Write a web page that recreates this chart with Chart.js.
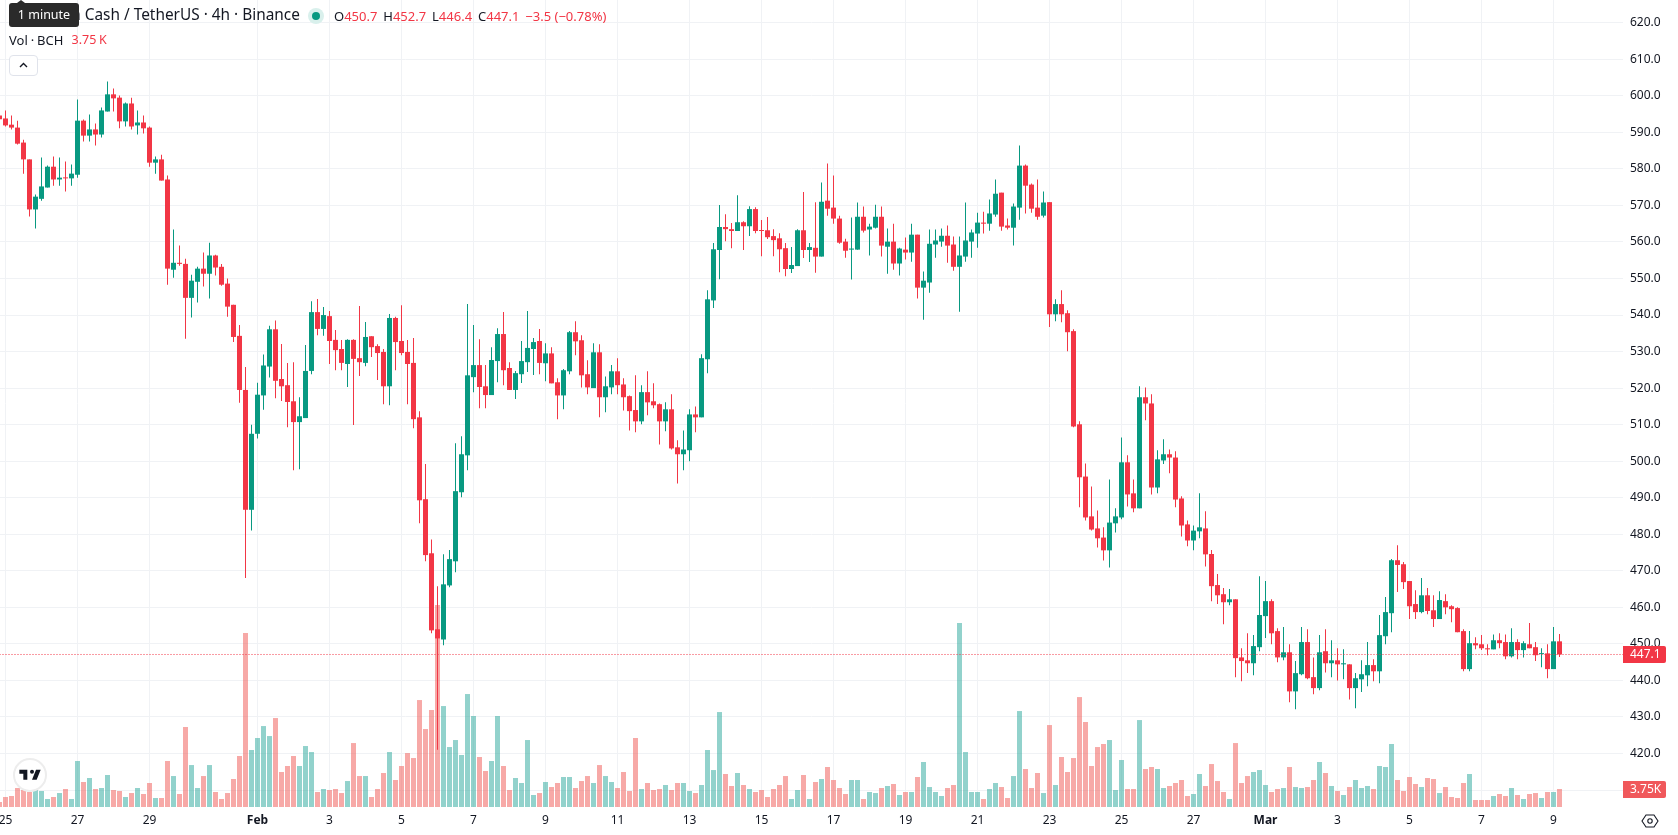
<!DOCTYPE html>
<html lang="en">
<head>
<meta charset="utf-8">
<title>Bitcoin Cash / TetherUS 4h</title>
<script src="https://cdn.jsdelivr.net/npm/chart.js@4"></script>
<style>
  html, body { margin: 0; padding: 0; background: #fff; overflow: hidden; }
  #stage { position: relative; width: 1678px; height: 835px; font-family: "Noto Sans", sans-serif; color: #131722; }
  canvas { position: absolute; left: 0; top: 0; }
  .hud { position: absolute; white-space: nowrap; line-height: 18px; }
  .red { color: #F23645; }
  #title { left: 31px; top: 6px; font-size: 15.4px; }
  #ohlc { left: 334px; top: 7px; font-size: 13px; }
  #ohlc span { margin-right: 2.5px; }
  #vol { left: 9px; top: 31px; font-size: 13px; word-spacing: -0.5px; }
  #vol .red { position: absolute; left: 62.5px; font-size: 12.5px; }
  #tip { left: 9px; top: 3px; width: 70px; height: 24px; line-height: 24px; border-radius: 3px; background: #2A2A2A; color: #fff; font-size: 12.5px; text-align: center; }
  #tip::before { content: ""; position: absolute; left: 8px; top: -3px; border-left: 4px solid transparent; border-right: 4px solid transparent; border-bottom: 3px solid #2A2A2A; }
  #dot { position: absolute; left: 308px; top: 8px; width: 16px; height: 16px; border-radius: 50%; background: #D9F0EC; }
  #dot::after { content: ""; position: absolute; left: 4px; top: 4px; width: 8px; height: 8px; border-radius: 50%; background: #089981; }
  #collapse { position: absolute; left: 9px; top: 55px; width: 27px; height: 19px; border: 1px solid #E0E3EB; border-radius: 4px; background: #fff; }
  #logo { position: absolute; left: 13px; top: 758px; width: 30px; height: 30px; border: 2px solid #EDEDED; border-radius: 50%; background: #fff; }
  #logo svg { position: absolute; left: 3px; top: 5px; }
  #gear { position: absolute; left: 1641px; top: 812px; }
</style>
</head>
<body>
<div id="stage">
  <canvas id="chart" width="1678" height="835"></canvas>
  <div class="hud" id="title">Bitcoin Cash / TetherUS · 4h · Binance</div>
  <div id="dot"></div>
  <div class="hud" id="ohlc">
    <span>O<b class="red" style="font-weight:400">450.7</b></span>
    <span>H<b class="red" style="font-weight:400">452.7</b></span>
    <span>L<b class="red" style="font-weight:400">446.4</b></span>
    <span>C<b class="red" style="font-weight:400">447.1</b></span>
    <span class="red">−3.5 (−0.78%)</span>
  </div>
  <div class="hud" id="vol">Vol · BCH <span class="red">3.75 K</span></div>
  <div class="hud" id="tip">1 minute</div>
  <div id="collapse">
    <svg width="27" height="19" viewBox="0 0 27 19"><path d="M10 11l3.5-3.5L17 11" fill="none" stroke="#131722" stroke-width="1.4"/></svg>
  </div>
  <div id="logo">
    <svg width="24" height="20" viewBox="0 0 36 28"><path fill="#131722" d="M14 6H2v6h6v9h6V6zm14 15h-7l6-15h7l-6 15zm-7-9a3 3 0 100-6 3 3 0 000 6z"/></svg>
  </div>
  <svg id="gear" width="18" height="18" viewBox="0 0 18 18"><path d="M5 3h8l4 6-4 6H5L1 9z" fill="none" stroke="#131722" stroke-width="1.1"/><circle cx="9" cy="9" r="2.2" fill="none" stroke="#131722" stroke-width="1.1"/></svg>
</div>

<script>
// Four-hour BCH/USDT candles, oldest first, with base volume in thousands.
const opens = [
  594.6,593.8,592.1,591.3,587.2,582.6,568.9,571.8,574.9,580.6,
  577.1,577.6,577.4,578.4,593.2,589.1,590.8,589.4,595.7,600.4,
  599.5,593.0,597.9,591.9,592.7,591.3,581.7,582.6,577.1,552.4,
  554.3,554.0,544.7,549.1,552.7,551.3,556.3,553.2,548.6,542.8,
  534.3,519.5,486.7,507.5,518.0,525.9,536.1,522.5,520.8,516.4,
  510.7,511.8,524.7,540.8,536.2,539.7,533.2,530.7,526.6,533.2,
  528.2,526.9,534.2,531.5,529.9,520.5,539.2,532.9,529.9,526.9,
  512.0,489.6,474.8,454.0,451.2,466.0,472.6,491.5,501.6,523.0,
  526.3,520.5,518.1,527.4,534.8,525.5,519.5,523.8,527.1,530.7,
  532.9,526.8,529.5,521.6,518.0,524.6,535.3,533.1,523.8,520.0,
  529.8,517.5,520.2,524.6,521.0,517.8,514.0,510.9,518.9,516.4,
  515.6,510.9,514.2,503.8,501.9,503.0,512.8,512.0,527.9,544.0,
  557.8,564.1,563.5,563.0,565.4,564.3,569.0,563.2,563.2,561.6,
  561.0,558.3,552.6,553.4,563.2,557.8,558.4,556.0,571.3,569.4,
  566.4,560.1,557.9,557.9,566.9,563.4,563.9,566.9,558.7,560.1,
  554.1,557.9,557.1,562.0,547.5,548.9,559.3,560.1,561.7,559.3,
  553.2,556.0,560.1,562.3,565.3,565.0,567.5,573.5,564.5,563.9,
  569.4,580.9,575.7,569.4,567.2,570.9,540.2,543.0,540.5,535.6,
  510.1,495.8,484.9,481.6,479.1,475.6,483.0,484.6,499.7,491.2,
  487.1,517.5,515.8,492.8,500.2,501.9,501.0,489.8,482.7,478.3,
  480.8,481.6,474.6,466.1,463.6,461.4,462.2,446.3,445.5,444.7,
  449.1,457.6,461.7,453.5,446.3,447.7,437.0,441.7,450.5,440.9,
  437.9,448.0,444.7,445.5,444.4,444.4,437.9,440.3,441.4,444.2,
  442.5,452.1,458.4,472.9,471.8,467.2,460.9,458.7,463.3,459.2,
  456.8,461.7,460.3,459.8,453.5,443.1,450.2,449.9,448.8,448.5,
  451.0,450.5,446.6,450.5,448.3,449.9,449.1,447.2,447.4,443.1,
  450.7
];
const closes = [
  593.6,591.9,591.3,586.9,582.6,568.9,572.4,575.2,580.6,577.1,
  577.6,577.4,578.7,593.2,589.1,590.8,589.4,596.0,600.4,599.3,
  593.0,597.9,591.6,592.7,591.1,581.7,582.6,576.8,552.7,554.3,
  554.0,544.7,549.4,552.7,551.3,556.3,553.0,548.3,542.3,534.0,
  519.5,486.7,507.5,518.2,526.2,536.1,522.0,520.5,516.2,510.7,
  512.3,524.7,540.8,536.2,540.0,532.9,530.4,526.9,533.2,528.0,
  527.1,534.0,531.2,529.6,520.5,539.2,532.6,529.6,526.6,511.5,
  489.3,474.3,453.7,451.5,466.3,473.2,491.8,501.9,523.5,526.3,
  520.3,518.1,527.7,534.8,524.9,519.5,524.1,527.4,531.0,532.6,
  526.9,529.5,521.3,518.0,524.9,535.3,532.8,523.5,520.2,529.8,
  517.5,520.5,524.6,520.8,517.5,513.7,510.9,518.9,516.1,515.3,
  510.9,514.2,503.5,501.9,503.2,512.8,512.0,528.2,544.3,558.0,
  564.1,563.5,563.0,565.4,564.3,569.0,563.0,563.0,561.3,560.5,
  558.0,552.6,553.7,563.2,557.8,558.6,556.0,571.0,569.1,566.4,
  559.8,557.6,558.2,566.9,563.1,564.2,566.9,559.0,560.1,554.1,
  558.2,557.1,562.0,547.5,549.4,559.5,560.4,561.7,559.0,553.2,
  556.3,560.4,562.6,565.3,565.0,567.8,573.2,564.2,563.9,569.7,
  580.9,575.4,569.1,566.9,570.8,540.2,543.0,540.2,535.3,509.5,
  495.6,484.6,481.3,478.9,475.6,483.2,484.9,499.7,490.9,487.1,
  517.5,515.8,492.8,500.5,501.9,501.0,489.5,482.4,478.3,481.0,
  481.9,474.5,465.8,463.3,461.4,462.2,446.1,445.3,444.7,449.4,
  457.9,461.7,452.9,446.3,447.7,437.0,442.0,450.5,440.6,437.9,
  447.7,444.7,445.5,444.4,444.7,437.9,440.6,441.7,444.2,442.5,
  452.4,458.7,472.9,471.6,466.9,460.3,458.7,463.3,459.0,456.8,
  462.0,460.0,459.5,453.2,443.1,450.2,449.6,448.8,448.5,451.0,
  450.2,446.6,450.5,448.3,450.2,448.8,446.9,447.4,443.1,450.7,
  447.1
];
const highs = [
  595.0,596.0,594.6,593.2,588.0,582.6,573.0,583.1,580.9,583.4,
  583.1,582.0,581.2,599.0,593.5,594.9,592.4,596.8,603.9,602.0,
  600.1,598.2,599.5,596.0,594.6,591.6,583.4,583.9,578.2,563.4,
  559.0,555.4,551.0,553.2,557.1,559.8,556.5,554.0,550.0,542.8,
  537.3,525.8,510.0,521.5,529.2,537.1,538.5,532.1,526.9,527.1,
  517.5,531.8,543.8,544.4,542.2,541.1,535.9,533.2,533.4,533.4,
  542.5,538.1,534.2,532.0,530.7,540.3,539.5,542.7,533.2,533.7,
  513.7,499.2,478.6,465.8,474.5,475.7,504.9,506.8,543.0,537.3,
  533.4,526.3,531.2,536.4,540.8,527.1,524.7,532.9,541.1,533.7,
  536.2,532.3,531.2,522.7,525.2,535.6,538.3,534.5,527.6,532.3,
  532.0,523.2,526.3,528.2,522.7,518.0,523.5,520.8,524.6,521.3,
  515.8,516.1,518.3,505.7,508.4,514.2,515.0,529.3,546.8,559.7,
  570.1,567.6,565.2,572.8,565.7,569.8,569.5,566.0,566.8,563.5,
  562.4,559.7,558.6,563.5,573.7,559.7,570.9,576.3,581.5,578.2,
  567.2,560.9,566.7,570.8,569.7,565.0,570.2,569.7,563.7,565.0,
  558.4,561.2,565.0,562.0,551.9,563.4,563.4,563.7,564.5,561.5,
  561.5,570.8,563.4,568.0,568.3,571.6,577.1,573.5,566.4,570.5,
  586.4,581.2,576.0,577.1,573.8,570.9,544.3,546.8,541.3,536.1,
  510.9,499.4,493.1,486.5,481.9,495.0,487.1,506.5,501.6,495.0,
  520.5,520.2,518.3,503.0,506.0,503.2,502.7,490.4,483.8,482.4,
  491.2,486.3,475.7,469.1,465.3,465.0,462.2,448.8,452.9,452.4,
  468.5,467.2,462.2,454.3,454.6,449.9,445.3,454.6,454.0,446.3,
  452.4,454.0,451.0,448.8,448.5,444.4,442.0,445.5,450.5,445.8,
  457.9,462.8,473.2,477.0,472.4,467.2,464.7,468.0,465.3,463.3,
  464.4,463.6,460.6,460.0,454.0,453.5,451.8,452.4,449.9,452.6,
  452.9,452.6,454.3,451.3,450.7,455.7,450.5,448.8,449.9,454.6,
  452.7
];
const lows = [
  593.0,591.6,590.8,586.7,578.7,567.0,563.7,571.3,574.9,575.4,
  575.4,573.8,575.4,577.6,587.5,587.5,586.4,588.6,595.7,595.7,
  591.1,591.6,590.8,589.4,589.7,580.6,578.7,576.8,548.3,550.2,
  553.5,533.5,539.3,543.4,547.8,544.5,550.8,548.0,539.5,532.6,
  516.0,468.0,481.0,506.2,514.1,522.9,517.2,516.5,509.3,497.5,
  497.8,511.8,523.8,534.5,534.3,526.6,524.9,524.9,520.3,509.9,
  523.3,526.0,528.5,522.2,515.6,515.3,524.9,529.0,515.6,509.0,
  483.0,472.6,452.9,421.0,449.6,465.5,469.6,490.1,497.5,518.9,
  514.5,514.5,518.1,521.6,520.8,519.5,517.0,521.4,524.4,523.6,
  523.8,521.9,521.3,511.5,514.2,523.8,529.0,520.2,518.3,520.0,
  512.0,513.4,518.3,518.3,513.9,508.4,507.9,510.1,512.6,514.5,
  504.6,508.2,503.2,493.9,497.5,500.0,507.9,512.0,524.1,541.9,
  549.8,560.2,558.3,563.0,557.8,561.6,562.4,556.1,560.8,556.1,
  551.7,550.6,551.5,553.4,555.6,554.5,551.6,556.0,567.2,565.0,
  559.5,555.7,549.7,557.9,562.6,556.3,563.7,556.0,551.3,552.4,
  550.8,555.2,554.6,544.5,538.7,546.1,555.7,558.7,554.3,552.1,
  540.9,554.6,555.7,558.4,562.3,563.1,566.9,563.1,563.4,559.0,
  566.1,567.8,568.0,566.1,566.7,536.7,538.3,538.0,530.1,509.3,
  487.4,483.8,481.0,476.4,472.8,470.9,480.5,484.1,487.6,486.0,
  487.1,511.2,490.9,491.2,499.2,496.7,487.4,479.4,476.7,475.6,
  478.9,471.2,461.7,460.9,455.4,460.6,440.9,439.8,442.0,441.4,
  448.0,451.6,449.9,445.0,445.5,434.0,432.1,441.4,440.3,436.2,
  437.3,442.2,440.9,440.0,440.3,434.8,432.4,436.8,438.4,439.8,
  439.2,449.9,453.2,464.2,465.0,456.8,456.8,458.4,458.1,454.6,
  456.8,458.1,455.9,453.2,442.5,442.5,448.5,448.3,446.9,448.5,
  448.8,445.8,446.3,445.8,446.3,448.8,445.3,443.6,440.6,443.1,
  446.4
];
const volumes = [
  1.04,2.08,2.29,3.96,3.54,3.12,3.54,3.33,1.67,2.08,
  2.91,3.75,1.67,9.58,5.21,6.04,3.75,3.96,6.66,3.54,
  3.33,2.08,2.91,3.96,2.71,5.00,1.87,1.87,9.58,6.45,
  2.71,16.66,8.74,3.96,6.45,8.74,3.12,1.67,2.91,5.83,
  10.62,36.23,11.87,14.37,16.86,14.78,18.53,7.29,8.54,10.62,
  8.54,12.70,11.45,3.12,3.75,3.54,3.75,2.91,5.41,13.32,
  6.45,6.45,2.08,3.75,7.08,11.45,5.62,8.54,11.24,10.20,
  22.28,16.24,20.20,42.06,21.03,12.49,13.95,10.83,23.53,18.95,
  10.41,7.50,9.58,18.95,8.54,3.54,6.04,5.00,13.95,2.50,
  2.91,5.21,4.16,5.00,6.25,6.25,3.96,5.41,6.45,5.00,
  8.74,6.45,5.21,3.96,7.29,3.33,14.37,3.75,5.00,3.54,
  3.75,4.58,3.54,5.00,5.00,3.33,2.91,4.58,11.87,7.70,
  19.78,6.87,4.37,7.08,4.58,3.75,3.12,3.54,2.08,3.75,
  4.58,6.45,1.67,3.54,6.66,1.67,5.21,5.83,8.33,5.62,
  3.96,2.71,5.62,5.62,1.67,3.12,2.91,3.96,4.37,4.79,
  2.50,3.12,3.12,6.25,9.37,4.16,3.12,2.29,3.96,4.58,
  38.31,11.45,3.12,3.12,1.67,3.75,5.00,4.16,1.87,6.45,
  19.99,7.91,3.96,7.08,2.91,17.07,4.58,10.41,7.29,10.20,
  22.90,17.70,8.54,12.49,13.12,13.95,3.54,9.79,3.75,3.75,
  18.11,7.91,8.33,7.91,3.96,4.37,5.00,5.62,2.29,2.71,
  6.87,4.37,8.95,5.41,3.12,1.67,13.32,5.00,6.45,7.29,
  7.70,4.58,3.12,3.75,3.96,8.33,4.16,3.96,4.16,5.62,
  9.37,7.08,4.37,3.33,2.50,4.16,5.62,3.96,4.37,3.75,
  8.54,8.33,13.12,5.62,3.33,6.25,4.79,4.16,6.04,5.83,
  2.91,4.16,2.08,1.87,5.00,6.87,1.46,1.46,1.46,2.29,
  2.71,2.29,3.96,2.50,1.67,2.71,2.91,1.87,3.12,3.12,
  3.75
];
const tickIndices = [1,13,25,43,55,67,79,91,103,115,127,139,151,163,175,187,199,211,223,235,247,259];
const tickLabels = ['25','27','29','Feb','3','5','7','9','11','13','15','17','19','21','23','25','27','Mar','3','5','7','9'];
const monthLabels = ['Feb','Mar'];
const lastPrice = 447.1;
const lastVolume = 3.75;

const UP = '#089981', DOWN = '#F23645';
const UP_VOL = 'rgba(38,166,154,0.5)', DOWN_VOL = 'rgba(239,83,80,0.5)';
const GRID = '#F0F2F5', INK = '#131722';
const FONT = '"Noto Sans", sans-serif';

const isUp = i => closes[i] >= opens[i];
const candleColor = ctx => isUp(ctx.dataIndex) ? UP : DOWN;
const barBase = { grouped: false, categoryPercentage: 1, barPercentage: 1, inflateAmount: 0, borderWidth: 0 };

// Price tags in the axis gutter, painted over the tick labels they share a row with.
const axisTags = {
  id: 'axisTags',
  afterDraw(chart) {
    const { ctx, chartArea, scales } = chart;
    const tag = (y, text, fill) => {
      ctx.fillStyle = fill;
      ctx.beginPath();
      ctx.roundRect(chartArea.right, Math.round(y) - 8, 43, 17, [0, 2, 2, 0]);
      ctx.fill();
      ctx.fillStyle = '#fff';
      ctx.font = '12px ' + FONT;
      ctx.textAlign = 'left';
      ctx.textBaseline = 'middle';
      ctx.fillText(text, chartArea.right + 7, Math.round(y) + 0.5);
    };
    tag(scales.y.getPixelForValue(lastPrice), lastPrice.toFixed(1), DOWN);
    tag(scales.vol.getPixelForValue(lastVolume), lastVolume.toFixed(2) + 'K', '#F0585B');
  }
};

new Chart(document.getElementById('chart'), {
  type: 'bar',
  plugins: [axisTags],
  data: {
    datasets: [
      { ...barBase, order: 4, yAxisID: 'vol', label: 'Volume',
        data: volumes.map((v, i) => ({ x: i, y: v })),
        backgroundColor: ctx => isUp(ctx.dataIndex) ? UP_VOL : DOWN_VOL, maxBarThickness: 5 },
      { ...barBase, order: 3, label: 'Wick',
        data: highs.map((h, i) => ({ x: i, y: [lows[i], h] })),
        backgroundColor: candleColor, maxBarThickness: 1 },
      { ...barBase, order: 2, label: 'Body',
        data: opens.map((o, i) => ({ x: i, y: [o, closes[i]] })),
        backgroundColor: candleColor, maxBarThickness: 5, minBarLength: 1 },
      { type: 'line', order: 1, label: 'Last price',
        data: [{ x: 0, y: lastPrice }, { x: 271, y: lastPrice }],
        borderColor: DOWN, borderWidth: 1, borderDash: [1, 2], pointRadius: 0 }
    ]
  },
  options: {
    responsive: false,
    animation: false,
    devicePixelRatio: 1,
    layout: { padding: 0 },
    plugins: { legend: { display: false }, tooltip: { enabled: false } },
    scales: {
      x: {
        type: 'linear',
        offset: false,
        min: 1 / 12,
        max: 270 + 7 / 12,
        afterBuildTicks(scale) { scale.ticks = tickIndices.map(value => ({ value })); },
        afterFit(scale) { scale.height = 28; scale.paddingLeft = 0; scale.paddingRight = 0; },
        grid: { offset: false, color: GRID, drawTicks: false },
        border: { display: false },
        ticks: {
          autoSkip: false, maxRotation: 0, padding: 6, color: INK,
          font: ctx => {
            const label = tickLabels[tickIndices.indexOf(ctx.tick && ctx.tick.value)];
            return { family: FONT, size: 12, weight: monthLabels.includes(label) ? 'bold' : 'normal' };
          },
          callback: value => tickLabels[tickIndices.indexOf(value)]
        }
      },
      y: {
        position: 'right',
        min: 405.36,
        max: 626.22,
        afterFit(scale) { scale.width = 55; scale.paddingTop = 0; scale.paddingBottom = 0; },
        grid: { color: GRID, drawTicks: false },
        border: { display: false },
        ticks: {
          stepSize: 10, includeBounds: false, crossAlign: 'near', padding: 7, color: INK,
          font: { family: FONT, size: 12 },
          callback: value => value.toFixed(1)
        }
      },
      vol: { display: false, position: 'left', min: 0, max: 168.1 }
    }
  }
});
</script>
</body>
</html>
